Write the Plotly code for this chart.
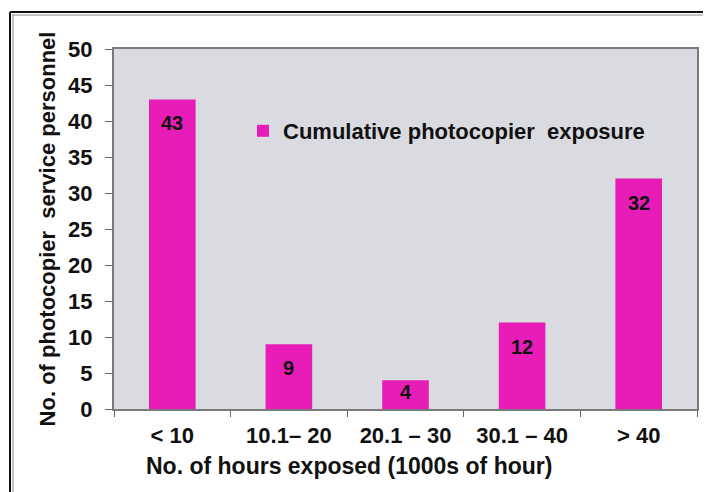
import plotly.graph_objects as go

categories = ["< 10", "10.1\u2013 20", "20.1 \u2013 30", "30.1 \u2013 40", "> 40"]
personnel = [43, 9, 4, 12, 32]
y_ticks = [0, 5, 10, 15, 20, 25, 30, 35, 40, 45, 50]
x_title = "No. of hours exposed (1000s of hour)"
y_title = "No. of photocopier\u00a0 service personnel"
series_name = "Cumulative photocopier\u00a0 exposure"

FONT = "Liberation Sans, Arial, sans-serif"
BAR = "#e81db8"
INK = "#111111"

# page body offset of the exported html
OFF = 8
W, H = 711 - OFF, 492 - OFF
ml, mr, mt, mb = 114 - OFF, 14, 49 - OFF, 83
pw, ph = W - ml - mr, H - mt - mb


def px(x):
    return (x - OFF - ml) / pw


def py(y):
    return (H - mb - (y - OFF)) / ph


fig = go.Figure()
fig.add_trace(go.Bar(
    x=categories, y=personnel, name=series_name,
    marker=dict(color=BAR, line=dict(width=0)), width=0.4, showlegend=True,
))

px_per_unit = ph / 50.0
for c, v in zip(categories, personnel):
    shift = -min(24, v * px_per_unit * 0.4)
    fig.add_annotation(x=c, y=v, text=str(v), showarrow=False, yshift=shift,
                       font=dict(family=FONT, size=20, color=INK, weight="bold"))

# x-axis title (offset to the left as in the original)
fig.add_annotation(xref="paper", yref="paper", x=px(349), y=py(466), text=x_title,
                   showarrow=False, xanchor="center", yanchor="middle",
                   font=dict(family=FONT, size=23, color=INK, weight="bold"))

# outer frame (left and top double lines)
fig.add_shape(type="line", xref="paper", yref="paper", x0=px(10), x1=px(10), y0=py(12), y1=py(500),
              line=dict(color=INK, width=2))
fig.add_shape(type="line", xref="paper", yref="paper", x0=px(13), x1=px(13), y0=py(14), y1=py(500),
              line=dict(color="#888888", width=1))
fig.add_shape(type="line", xref="paper", yref="paper", x0=px(10), x1=px(720), y0=py(12), y1=py(12),
              line=dict(color=INK, width=2))
fig.add_shape(type="line", xref="paper", yref="paper", x0=px(13), x1=px(720), y0=py(15), y1=py(15),
              line=dict(color="#888888", width=1))

fig.update_layout(
    width=W, height=H,
    margin=dict(l=ml, r=mr, t=mt, b=mb),
    paper_bgcolor="white",
    plot_bgcolor="#d9dbe0",
    font=dict(family=FONT, color=INK),
    legend=dict(x=px(243), y=py(131), xanchor="left", yanchor="middle",
                bgcolor="rgba(0,0,0,0)", font=dict(family=FONT, size=22, weight="bold", color=INK),
                itemwidth=30),
    xaxis=dict(
        type="category", tickson="boundaries", ticks="outside", ticklen=6, tickcolor="#666666",
        showline=True, linecolor="#7a7a7a", linewidth=2, mirror=True, showgrid=False,
        ticklabelstandoff=6,
        tickfont=dict(family=FONT, size=22, weight="bold", color=INK),
    ),
    yaxis=dict(
        range=[0, 50], tickvals=y_ticks, ticks="outside", ticklen=7, tickcolor="#666666",
        showline=True, linecolor="#7a7a7a", linewidth=2, mirror=True, showgrid=False, zeroline=False,
        ticklabelstandoff=8,
        tickfont=dict(family=FONT, size=22, weight="bold", color=INK),
        title=dict(text=y_title, standoff=6,
                   font=dict(family=FONT, size=22, weight="bold", color=INK)),
    ),
)

fig.write_html("out.html")
